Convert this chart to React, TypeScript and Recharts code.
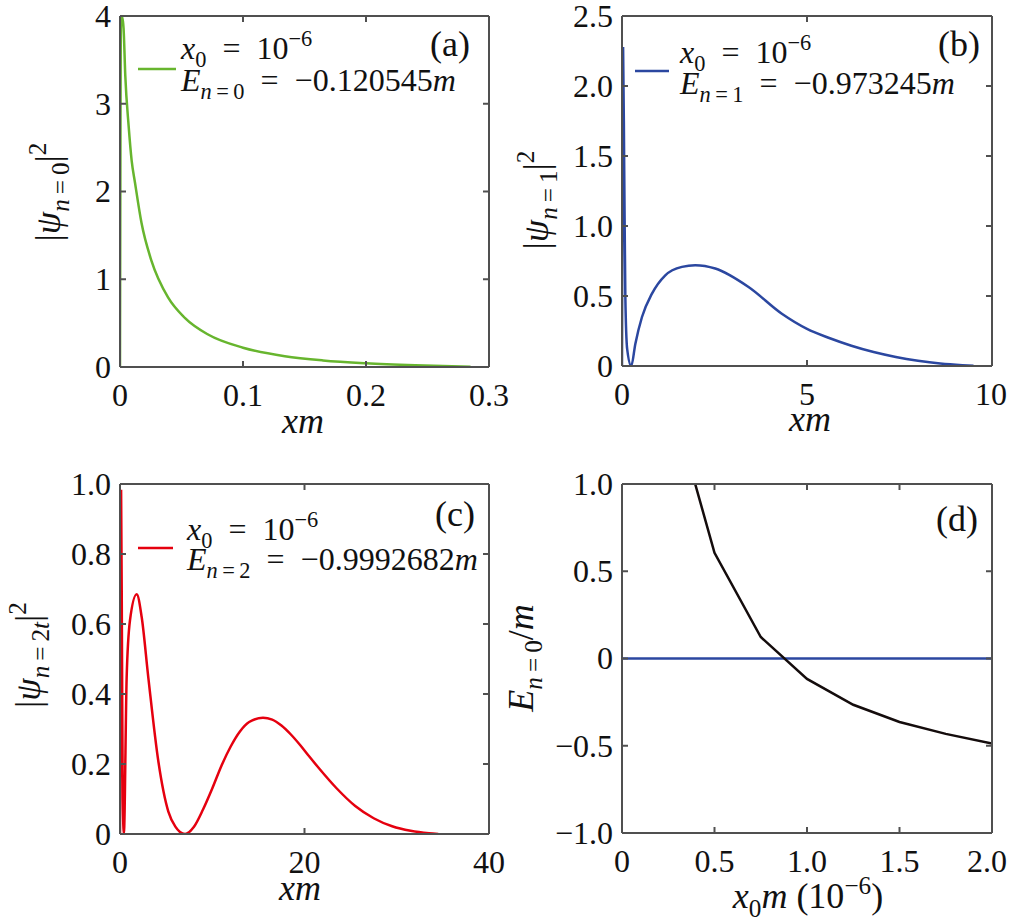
import React from 'react';
import { LineChart, Line, XAxis, YAxis } from 'recharts';

const FONT = '"Liberation Serif", "DejaVu Serif", serif';
const FRAME = '#505050';
const INK = '#111111';
const W = 1011;
const H = 921;
const EQ = '\u2002=\u2002';
const SEQ = '\u2009=\u2009';

// (a) ground state density
const aX = [0, 0.0008, 0.0018, 0.0029, 0.0043, 0.007, 0.0095, 0.0122, 0.0175, 0.0256, 0.0392, 0.0527, 0.0716, 0.1, 0.134, 0.165, 0.2, 0.24, 0.285];
const aY = [0, 4.0, 3.98, 3.86, 3.32, 2.75, 2.35, 2.1, 1.64, 1.21, 0.79, 0.56, 0.37, 0.22, 0.123, 0.075, 0.043, 0.02, 0.003];
const aXTicks = [0, 0.1, 0.2, 0.3];
const aXTickLabels = ['0', '0.1', '0.2', '0.3'];
const aYTicks = [0, 1, 2, 3, 4];
const aYTickLabels = ['0', '1', '2', '3', '4'];

// (b) n = 1
const bX = [0, 0.03, 0.06, 0.09, 0.14, 0.25, 0.36, 0.54, 0.81, 1.17, 1.62, 1.98, 2.52, 3.42, 4.32, 5.0, 5.6, 6.2, 6.8, 7.4, 8.0, 8.6, 9.2, 9.5];
const bY = [0, 2.27, 1.4, 0.5, 0.12, 0, 0.158, 0.35, 0.517, 0.648, 0.708, 0.72, 0.696, 0.564, 0.373, 0.265, 0.2, 0.145, 0.1, 0.065, 0.038, 0.018, 0.006, 0.002];
const bXTicks = [0, 5, 10];
const bXTickLabels = ['0', '5', '10'];
const bYTicks = [0, 0.5, 1, 1.5, 2, 2.5];
const bYTickLabels = ['0', '0.5', '1.0', '1.5', '2.0', '2.5'];

// (c) n = 2
const cX = [0, 0.12, 0.22, 0.3, 0.42, 0.72, 1.08, 1.81, 2.35, 3.07, 4.16, 5.24, 6.0, 6.5, 7.05, 8.0, 9.0, 10.0, 11.0, 12.0, 13.0, 14.0, 15.5, 16.5, 17.5, 18.5, 19.5, 20.5, 21.5, 23.5, 25.5, 27.5, 29.5, 31.5, 33.5, 34.5];
const cY = [0, 0.98, 0.5, 0.1, 0, 0.446, 0.61, 0.685, 0.62, 0.447, 0.207, 0.064, 0.021, 0.006, 0, 0.02, 0.07, 0.13, 0.195, 0.25, 0.293, 0.32, 0.332, 0.327, 0.31, 0.285, 0.255, 0.222, 0.19, 0.13, 0.08, 0.045, 0.022, 0.009, 0.002, 0];
const cXTicks = [0, 20, 40];
const cXTickLabels = ['0', '20', '40'];
const cYTicks = [0, 0.2, 0.4, 0.6, 0.8, 1];
const cYTickLabels = ['0', '0.2', '0.4', '0.6', '0.8', '1.0'];

// (d) energy vs x0
const dX = [0.25, 0.5, 0.75, 1.0, 1.25, 1.5, 1.75, 2.0];
const dY = [1.55, 0.606, 0.123, -0.117, -0.265, -0.364, -0.432, -0.487];
const zeroX = [0, 2];
const zeroY = [0, 0];
const dXTicks = [0, 0.5, 1, 1.5, 2];
const dXTickLabels = ['0', '0.5', '1.0', '1.5', '2.0'];
const dYTicks = [-1, -0.5, 0, 0.5, 1];
const dYTickLabels = ['\u22121.0', '\u22120.5', '0', '0.5', '1.0'];

const pts = (xs: number[], ys: number[]) => xs.map((x, i) => ({ x, y: ys[i] }));

type Seg = { t: string; i?: boolean; s?: 'sub' | 'sup' };

function MathText({ x, y, segs, size, anchor = 'start', rotate = false }: {
  x: number; y: number; segs: Seg[]; size: number; anchor?: string; rotate?: boolean;
}) {
  let shift = 0;
  const spans = segs.map((sg, k) => {
    const target = sg.s === 'sub' ? size * 0.26 : sg.s === 'sup' ? -size * 0.4 : 0;
    const dy = target - shift;
    shift = target;
    return (
      <tspan key={k} dy={dy} fontStyle={sg.i ? 'italic' : 'normal'} fontSize={sg.s ? size * 0.7 : size}>
        {sg.t}
      </tspan>
    );
  });
  return (
    <text
      x={x}
      y={y}
      textAnchor={anchor as any}
      fontFamily={FONT}
      fill={INK}
      style={{ whiteSpace: 'pre' }}
      transform={rotate ? `rotate(-90 ${x} ${y})` : undefined}
    >
      {spans}
    </text>
  );
}

const fmt = (ticks: number[], labels: string[]) => (v: number) => {
  const i = ticks.findIndex(t => Math.abs(t - v) < 1e-9);
  return i >= 0 ? labels[i] : '';
};

const TICK_SIZE = 32;
const textWidth = (s: string) =>
  s.split('').reduce((w, ch) => w + (ch === '.' ? 0.25 : ch === '\u2212' ? 0.564 : 0.5), 0) * TICK_SIZE;

const xTick = (ticks: number[], labels: string[]) => (props: any) => {
  const label = fmt(ticks, labels)(props.payload.value);
  const half = textWidth(label) / 2;
  const cx = Math.min(props.x, W - 4 - half);
  return (
    <text x={cx} y={props.y} dy="0.68em" textAnchor="middle" fontFamily={FONT} fontSize={TICK_SIZE} fill={INK}>
      {label}
    </text>
  );
};
const yTick = (ticks: number[], labels: string[]) => (props: any) => (
  <text x={props.x} y={props.y} dy="0.34em" textAnchor="end" fontFamily={FONT} fontSize={TICK_SIZE} fill={INK}>
    {fmt(ticks, labels)(props.payload.value)}
  </text>
);

interface Series { data: { x: number; y: number }[]; color: string; type: 'monotone' | 'linear' }

interface PanelProps {
  margin: { top: number; right: number; bottom: number; left: number };
  series: Series[];
  xDomain: [number, number]; xTicks: number[]; xLabels: string[];
  yDomain: [number, number]; yTicks: number[]; yLabels: string[];
  children?: React.ReactNode;
}

const axisLine = { stroke: FRAME, strokeWidth: 2 };
const tickLine = { stroke: FRAME, strokeWidth: 2 };

// every panel covers the whole canvas; margins place its plot box
function Panel(p: PanelProps) {
  return (
    <div style={{ position: 'absolute', left: 0, top: 0 }}>
      <LineChart width={W} height={H} margin={p.margin}>
        <XAxis type="number" dataKey="x" domain={p.xDomain} ticks={p.xTicks} interval={0}
          height={1} tickSize={-6} tickMargin={23}
          axisLine={axisLine} tickLine={tickLine} tick={xTick(p.xTicks, p.xLabels)} allowDataOverflow />
        <XAxis xAxisId="top" orientation="top" type="number" dataKey="x" domain={p.xDomain} ticks={p.xTicks}
          interval={0} tick={() => <g />} height={1} tickSize={-6}
          axisLine={axisLine} tickLine={tickLine} allowDataOverflow />
        <YAxis type="number" dataKey="y" domain={p.yDomain} ticks={p.yTicks} interval={0}
          width={1} tickSize={-6} tickMargin={15}
          axisLine={axisLine} tickLine={tickLine} tick={yTick(p.yTicks, p.yLabels)} allowDataOverflow />
        <YAxis yAxisId="right" orientation="right" type="number" domain={p.yDomain} ticks={p.yTicks}
          interval={0} tick={() => <g />} width={1} tickSize={-6}
          axisLine={axisLine} tickLine={tickLine} allowDataOverflow />
        {p.series.map((s, i) => (
          <Line key={i} data={s.data} dataKey="y" type={s.type} stroke={s.color} strokeWidth={2.5}
            dot={false} activeDot={false} isAnimationActive={false} />
        ))}
        {p.children}
      </LineChart>
    </div>
  );
}

const eqSize = 32;
const labSize = 36;
const tagSize = 36;

export default function App() {
  return (
    <div style={{ position: 'absolute', left: 0, top: 0, width: W, height: H, background: '#fff', fontFamily: FONT }}>
      <Panel margin={{ top: 15, right: 521, bottom: 553, left: 119 }}
        series={[{ data: pts(aX, aY), color: '#67b52e', type: 'monotone' }]}
        xDomain={[0, 0.3]} xTicks={aXTicks} xLabels={aXTickLabels}
        yDomain={[0, 4]} yTicks={aYTicks} yLabels={aYTickLabels}>
        <line x1={138} x2={176} y1={69} y2={69} stroke="#67b52e" strokeWidth={2.5} />
        <MathText x={181} y={59} size={eqSize} segs={[{ t: 'x', i: true }, { t: '0', s: 'sub' }, { t: EQ + '10' }, { t: '\u22126', s: 'sup' }]} />
        <MathText x={181} y={91} size={eqSize} segs={[{ t: 'E', i: true }, { t: 'n', i: true, s: 'sub' }, { t: SEQ + '0', s: 'sub' }, { t: EQ + '\u22120.120545' }, { t: 'm', i: true }]} />
        <MathText x={470} y={56} size={tagSize} anchor="end" segs={[{ t: '(a)' }]} />
        <MathText x={60} y={192} size={labSize} anchor="middle" rotate segs={[{ t: '|' }, { t: '\u03c8', i: true }, { t: 'n', i: true, s: 'sub' }, { t: SEQ + '0', s: 'sub' }, { t: '|' }, { t: '2', s: 'sup' }]} />
        <MathText x={303} y={433} size={labSize} anchor="middle" segs={[{ t: 'xm', i: true }]} />
      </Panel>

      <Panel margin={{ top: 15, right: 18, bottom: 554, left: 621 }}
        series={[{ data: pts(bX, bY), color: '#2b47a0', type: 'monotone' }]}
        xDomain={[0, 10]} xTicks={bXTicks} xLabels={bXTickLabels}
        yDomain={[0, 2.5]} yTicks={bYTicks} yLabels={bYTickLabels}>
        <line x1={635} x2={669} y1={71} y2={71} stroke="#2b47a0" strokeWidth={2.5} />
        <MathText x={680} y={63} size={eqSize} segs={[{ t: 'x', i: true }, { t: '0', s: 'sub' }, { t: EQ + '10' }, { t: '\u22126', s: 'sup' }]} />
        <MathText x={680} y={94} size={eqSize} segs={[{ t: 'E', i: true }, { t: 'n', i: true, s: 'sub' }, { t: SEQ + '1', s: 'sub' }, { t: EQ + '\u22120.973245' }, { t: 'm', i: true }]} />
        <MathText x={980} y={56} size={tagSize} anchor="end" segs={[{ t: '(b)' }]} />
        <MathText x={548} y={200} size={labSize} anchor="middle" rotate segs={[{ t: '|' }, { t: '\u03c8', i: true }, { t: 'n', i: true, s: 'sub' }, { t: SEQ + '1', s: 'sub' }, { t: '|' }, { t: '2', s: 'sup' }]} />
        <MathText x={810} y={431} size={labSize} anchor="middle" segs={[{ t: 'xm', i: true }]} />
      </Panel>

      <Panel margin={{ top: 483, right: 521, bottom: 86, left: 119 }}
        series={[{ data: pts(cX, cY), color: '#e5000f', type: 'monotone' }]}
        xDomain={[0, 40]} xTicks={cXTicks} xLabels={cXTickLabels}
        yDomain={[0, 1]} yTicks={cYTicks} yLabels={cYTickLabels}>
        <line x1={138} x2={173} y1={548} y2={548} stroke="#e5000f" strokeWidth={2.5} />
        <MathText x={187} y={540} size={eqSize} segs={[{ t: 'x', i: true }, { t: '0', s: 'sub' }, { t: EQ + '10' }, { t: '\u22126', s: 'sup' }]} />
        <MathText x={187} y={570} size={eqSize} segs={[{ t: 'E', i: true }, { t: 'n', i: true, s: 'sub' }, { t: SEQ + '2', s: 'sub' }, { t: EQ + '\u22120.9992682' }, { t: 'm', i: true }]} />
        <MathText x={475} y={526} size={tagSize} anchor="end" segs={[{ t: '(c)' }]} />
        <MathText x={40} y={655} size={labSize} anchor="middle" rotate segs={[{ t: '|' }, { t: '\u03c8', i: true }, { t: 'n', i: true, s: 'sub' }, { t: SEQ + '2', s: 'sub' }, { t: 't', i: true, s: 'sub' }, { t: '|' }, { t: '2', s: 'sup' }]} />
        <MathText x={300} y={900} size={labSize} anchor="middle" segs={[{ t: 'xm', i: true }]} />
      </Panel>

      <Panel margin={{ top: 483, right: 18, bottom: 87, left: 621 }}
        series={[
          { data: pts(zeroX, zeroY), color: '#2b47a0', type: 'linear' },
          { data: pts(dX, dY), color: '#140c0c', type: 'linear' },
        ]}
        xDomain={[0, 2]} xTicks={dXTicks} xLabels={dXTickLabels}
        yDomain={[-1, 1]} yTicks={dYTicks} yLabels={dYTickLabels}>
        <MathText x={978} y={531} size={tagSize} anchor="end" segs={[{ t: '(d)' }]} />
        <MathText x={533} y={658} size={labSize} anchor="middle" rotate segs={[{ t: 'E', i: true }, { t: 'n', i: true, s: 'sub' }, { t: SEQ + '0', s: 'sub' }, { t: '/' }, { t: 'm', i: true }]} />
        <MathText x={808} y={908} size={labSize} anchor="middle" segs={[{ t: 'x', i: true }, { t: '0', s: 'sub' }, { t: 'm', i: true }, { t: ' (10' }, { t: '\u22126', s: 'sup' }, { t: ')' }]} />
      </Panel>
    </div>
  );
}
